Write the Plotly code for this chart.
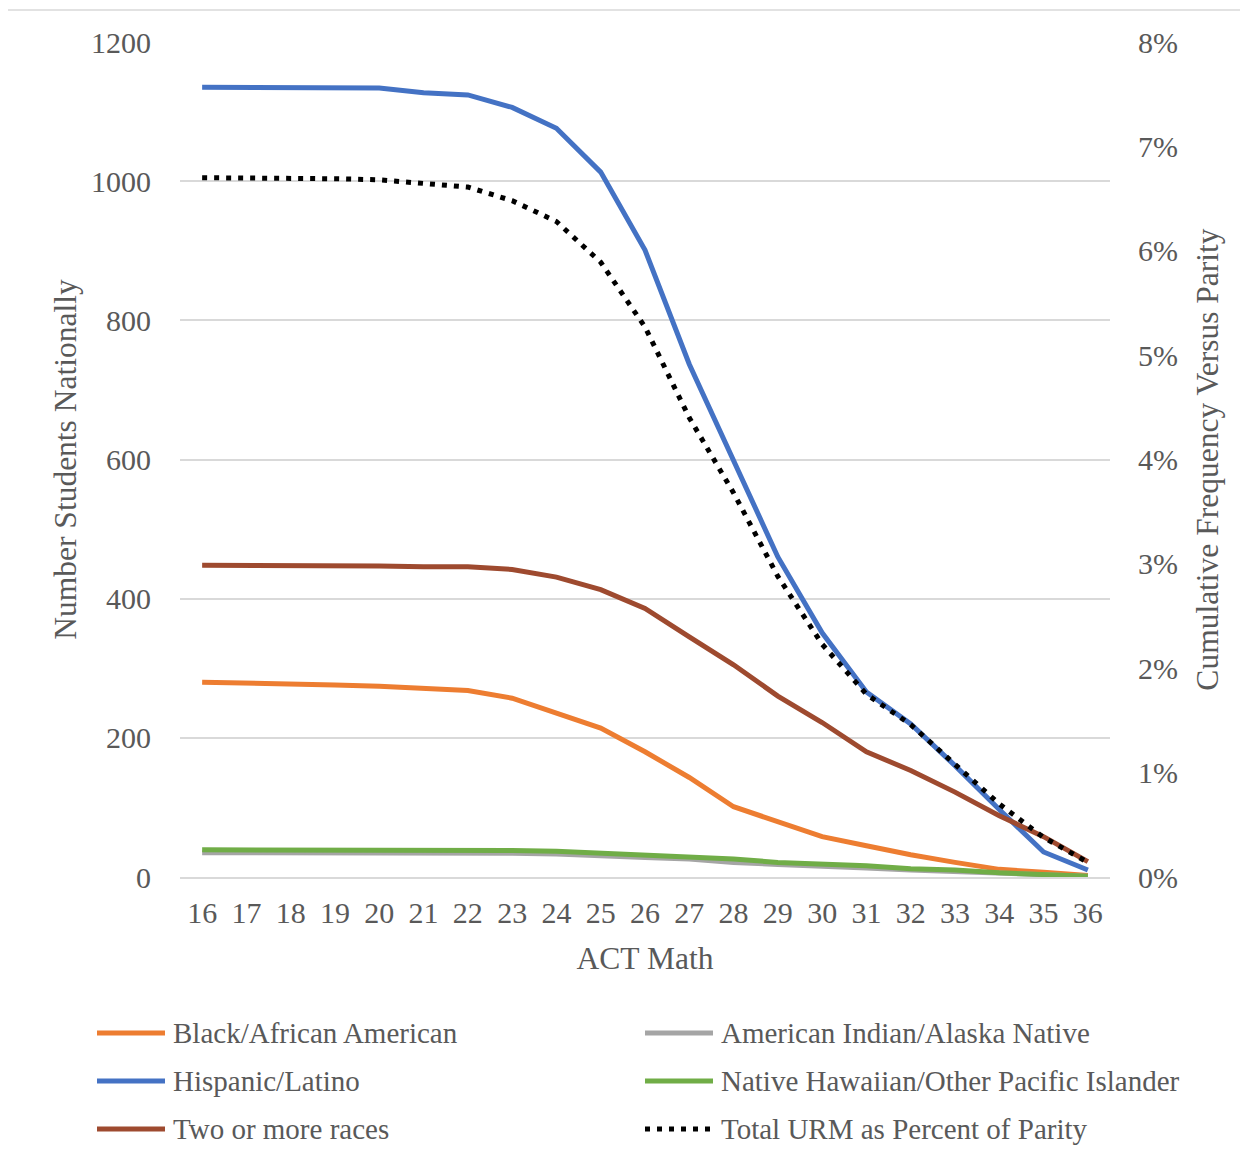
import plotly.graph_objects as go

# ACT Math score categories
scores = list(range(16, 37))

black = [280, 279, 278, 276, 274, 271, 268, 257, 235, 214, 180, 143, 101, 79, 58, 45, 32, 21, 11, 7, 2]
hispanic = [1135, 1135, 1134, 1134, 1134, 1127, 1124, 1106, 1076, 1013, 901, 737, 600, 460, 351, 266, 220, 160, 97, 36, 10]
two_more = [448, 448, 448, 447, 447, 446, 446, 442, 431, 413, 386, 345, 305, 260, 222, 180, 153, 122, 88, 58, 22]
am_indian = [35, 35, 35, 35, 35, 35, 35, 34, 33, 30, 28, 26, 21, 18, 16, 13, 10, 8, 5, 3, 1]
hawaiian = [39, 39, 39, 39, 39, 39, 38, 38, 37, 34, 32, 29, 26, 21, 19, 16, 12, 10, 6, 3, 1]
urm_pct = [6.70, 6.70, 6.70, 6.69, 6.68, 6.65, 6.61, 6.48, 6.28, 5.89, 5.27, 4.40, 3.68, 2.88, 2.23, 1.75, 1.46, 1.08, 0.70, 0.38, 0.14]

FONT = "Liberation Serif, Times New Roman, serif"
TXT = "#595959"
GRID = "#D9D9D9"
TITLE_SIZE = 31.5

# page size and plot area (page pixels); the figure div sits 8px in from the body margin
W, H = 1248, 1158
OFF = 8
L, R, T, B = 180, 1110, 42, 877


def px(x):
    return (x - L) / (R - L)


def py(y):
    return (B - y) / (B - T)


series = [
    ("Black/African American", black, "#ED7D31"),
    ("Hispanic/Latino", hispanic, "#4472C4"),
    ("Two or more races", two_more, "#9E4A2F"),
    ("American Indian/Alaska Native", am_indian, "#A5A5A5"),
    ("Native Hawaiian/Other Pacific Islander", hawaiian, "#70AD47"),
]

fig = go.Figure()
for name, vals, col in series:
    fig.add_trace(go.Scatter(x=scores, y=vals, name=name, mode="lines",
                             line=dict(color=col, width=5), showlegend=False))

fig.add_trace(go.Scatter(x=scores, y=urm_pct, name="Total URM as Percent of Parity",
                         mode="lines", yaxis="y2", showlegend=False,
                         line=dict(color="black", width=5, dash="5px,7px")))

fig.update_layout(
    width=W - OFF, height=H - OFF,
    margin=dict(l=L - OFF, r=W - R, t=T - OFF, b=H - B),
    paper_bgcolor="white", plot_bgcolor="white",
    font=dict(family=FONT, size=30, color=TXT),
    xaxis=dict(range=[15.5, 36.5], dtick=1, tick0=16, showgrid=False, zeroline=False,
               showline=True, linecolor=GRID, linewidth=2, ticks="",
               ticklabelstandoff=8,
               title=dict(text="ACT Math", standoff=19, font=dict(size=TITLE_SIZE))),
    yaxis=dict(range=[0, 1200], dtick=200, showgrid=True, gridcolor=GRID, gridwidth=2,
               zeroline=False, ticks="", ticklabelstandoff=28,
               title=dict(text="Number Students Nationally", standoff=4,
                          font=dict(size=TITLE_SIZE))),
    yaxis2=dict(range=[0, 8], dtick=1, overlaying="y", side="right", showgrid=False,
                zeroline=False, ticks="", ticksuffix="%", ticklabelstandoff=27,
                title=dict(text="Cumulative Frequency Versus Parity", standoff=18,
                           font=dict(size=TITLE_SIZE))),
)

# chart border
fig.add_shape(type="rect", xref="paper", yref="paper", layer="below",
              x0=px(4), x1=px(1260), y0=py(1170), y1=py(10),
              line=dict(color=GRID, width=1.5))

# legend, two columns
legend = [
    ("Black/African American", "#ED7D31", None),
    ("American Indian/Alaska Native", "#A5A5A5", None),
    ("Hispanic/Latino", "#4472C4", None),
    ("Native Hawaiian/Other Pacific Islander", "#70AD47", None),
    ("Two or more races", "#9E4A2F", None),
    ("Total URM as Percent of Parity", "black", "5px,7px"),
]
cols = [97, 645]
rows = [1033, 1081, 1129]
for i, (name, col, dash) in enumerate(legend):
    x0 = cols[i % 2]
    y0 = rows[i // 2]
    fig.add_shape(type="line", xref="paper", yref="paper",
                  x0=px(x0), x1=px(x0 + 68), y0=py(y0), y1=py(y0),
                  line=dict(color=col, width=5, dash=dash or "solid"))
    fig.add_annotation(xref="paper", yref="paper", x=px(x0 + 74), y=py(y0),
                       text=name, showarrow=False, xanchor="left", yanchor="middle",
                       font=dict(family=FONT, size=29, color=TXT))

fig.write_html("out.html")
